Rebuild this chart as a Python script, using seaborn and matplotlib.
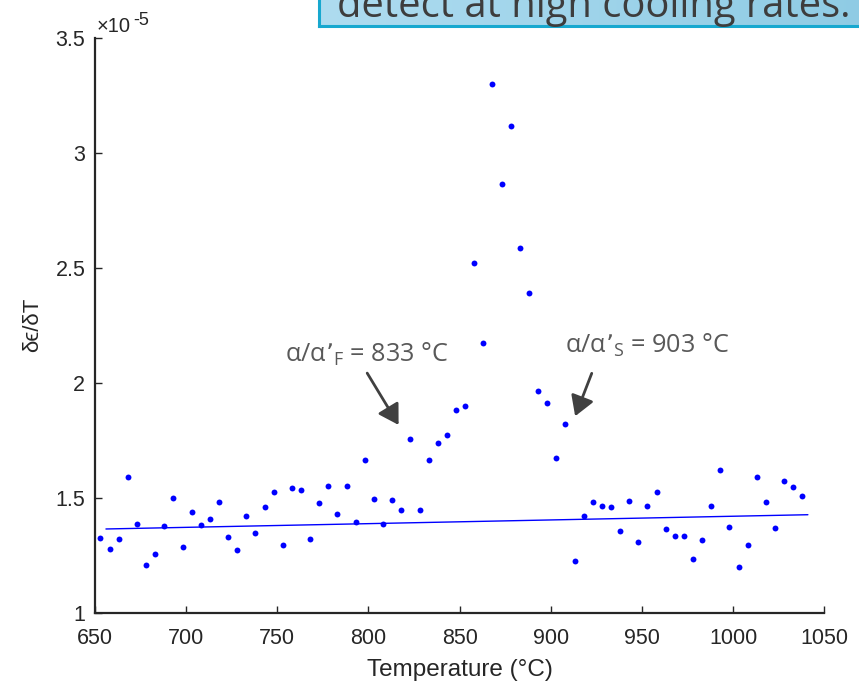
import numpy as np
import pandas as pd
import seaborn as sns
import matplotlib.pyplot as plt
from matplotlib.ticker import FixedLocator, FuncFormatter

# === data (dε/dT in units of 1e-5) ===
temp_start = 653
temp_step = 5
dedt = [
    1.323, 1.276, 1.319, 1.589, 1.386, 1.206, 1.255, 1.378, 1.499, 1.284,
    1.437, 1.383, 1.409, 1.483, 1.330, 1.271, 1.419, 1.345, 1.458, 1.523,
    1.296, 1.542, 1.533, 1.322, 1.477, 1.552, 1.428, 1.552, 1.394, 1.663,
    1.494, 1.384, 1.489, 1.447, 1.757, 1.447, 1.665, 1.739, 1.773, 1.883,
    1.897, 2.522, 2.174, 3.297, 2.865, 3.117, 2.584, 2.391, 1.964, 1.910,
    1.674, 1.820, 1.225, 1.422, 1.481, 1.464, 1.461, 1.357, 1.486, 1.309,
    1.463, 1.526, 1.363, 1.332, 1.333, 1.235, 1.315, 1.465, 1.620, 1.371,
    1.200, 1.294, 1.589, 1.481, 1.368, 1.574, 1.545, 1.509,
]
temps = [temp_start + temp_step * i for i in range(len(dedt))]

# baseline fit line (endpoints)
fit_temps = [656, 1041]
fit_vals = [1.364, 1.426]

x_ticks = [650, 700, 750, 800, 850, 900, 950, 1000, 1050]
y_ticks = [1, 1.5, 2, 2.5, 3, 3.5]

df = pd.DataFrame({"Temperature": temps, "dedt": dedt})
df_fit = pd.DataFrame({"Temperature": fit_temps, "dedt": fit_vals})

# === style ===
sns.set_theme(style="ticks")
plt.rcParams['font.family'] = ['Liberation Sans', 'DejaVu Sans']
dark = "#262626"

fig = plt.figure(figsize=(8.59, 6.85), dpi=100)
ax = fig.add_axes([95 / 859, 1 - 612.7 / 685, (824.3 - 95) / 859, (612.7 - 37.7) / 685])

sns.lineplot(data=df_fit, x="Temperature", y="dedt", color="blue", lw=1, ax=ax)
sns.scatterplot(data=df, x="Temperature", y="dedt", color="blue", s=18,
                linewidth=0, ax=ax, zorder=3)

ax.set_xlim(650, 1050)
ax.set_ylim(1, 3.5)
ax.xaxis.set_major_locator(FixedLocator(x_ticks))
ax.yaxis.set_major_locator(FixedLocator(y_ticks))
ax.yaxis.set_major_formatter(FuncFormatter(lambda v, p: f"{v:g}"))
ax.tick_params(direction="in", length=5, width=1, colors=dark, labelsize=15.5)
ax.tick_params(axis="x", pad=11)
ax.tick_params(axis="y", pad=7)
sns.despine(ax=ax)
for s in ["left", "bottom"]:
    ax.spines[s].set_color(dark)
    ax.spines[s].set_linewidth(1.6)

ax.set_xlabel("Temperature (°C)", fontsize=17.5, color=dark, labelpad=7)
ax.set_ylabel("δϵ/δT", fontsize=16, color=dark, labelpad=9)

# exponent label, MATLAB style
ax.annotate("×10", xy=(0, 1), xycoords="axes fraction", xytext=(1, 1),
            textcoords="offset points", fontsize=14.5, color=dark, ha="left", va="bottom")
ax.annotate("-5", xy=(0, 1), xycoords="axes fraction", xytext=(27.5, 6),
            textcoords="offset points", fontsize=13, color=dark, ha="left", va="bottom")

# annotations
ann_font = ['Open Sans', 'DejaVu Sans']
ann_color = "#595959"
ax.annotate("", xy=(817.3, 1.806), xytext=(798.5, 2.052),
            arrowprops=dict(arrowstyle="-|>,head_length=0.5,head_width=0.3",
                            color="#404040", lw=2, mutation_scale=24))
ax.annotate("", xy=(912.8, 1.843), xytext=(923.0, 2.052),
            arrowprops=dict(arrowstyle="-|>,head_length=0.5,head_width=0.3",
                            color="#404040", lw=2, mutation_scale=24))
ax.text(754.2, 2.125, r"α/α’$_{\mathregular{F}}$ = 833 °C", family=ann_font,
        fontsize=18.2, color=ann_color, va="center", ha="left")
ax.text(907.8, 2.16, r"α/α’$_{\mathregular{S}}$ = 903 °C", family=ann_font,
        fontsize=18.2, color=ann_color, va="center", ha="left")

# cropped call-out box at the top
box = fig.add_axes([319 / 859, 1 - 26 / 685, 560 / 859, 40 / 685])
grad = np.linspace(0, 1, 256).reshape(1, -1)
box.imshow(grad, aspect="auto", cmap=sns.blend_palette(["#aedcf0", "#8ecbe4"], as_cmap=True),
           extent=[0, 1, 0, 1])
box.set_xticks([])
box.set_yticks([])
for s in box.spines.values():
    s.set_color("#17a8cf")
    s.set_linewidth(2.2)
fig.text(337 / 859, 1 - 17 / 685, "detect at high cooling rates.", family=ann_font,
         fontsize=28.7, color="#3d3d3d", va="baseline", ha="left")

fig.savefig("out.png", dpi=100)
